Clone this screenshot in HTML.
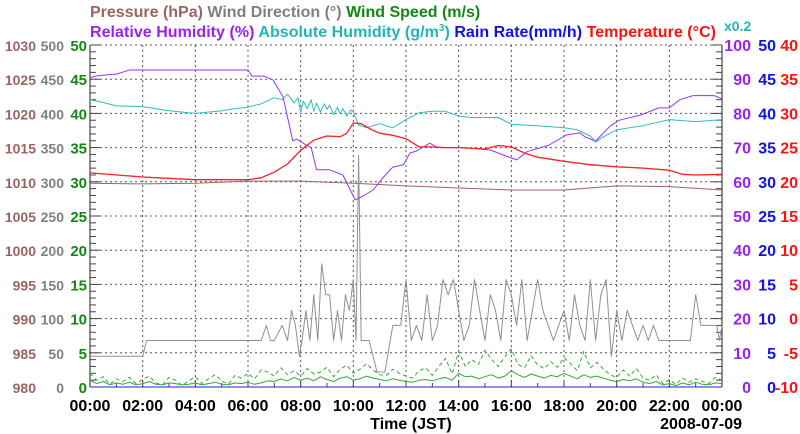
<!DOCTYPE html>
<html><head><meta charset="utf-8">
<style>
html,body{margin:0;padding:0;background:#fff;}
svg{display:block;font-family:"Liberation Sans",sans-serif;font-weight:bold;}
</style></head>
<body>
<svg id="chart" width="800" height="434" viewBox="0 0 800 434" xmlns="http://www.w3.org/2000/svg">
<g font-size="16">
<text x="90" y="17" text-anchor="start"><tspan fill="#9a6464">Pressure (hPa) </tspan><tspan fill="#808080">Wind Direction (°) </tspan><tspan fill="#118811">Wind Speed (m/s)</tspan></text>
<text x="90" y="37" text-anchor="start" textLength="626" lengthAdjust="spacing"><tspan fill="#9922ee">Relative Humidity (%) </tspan><tspan fill="#22b5b5">Absolute Humidity (g/m<tspan dy="-6" font-size="10">3</tspan><tspan dy="6">) </tspan></tspan><tspan fill="#1111ee">Rain Rate(mm/h) </tspan><tspan fill="#ff1111">Temperature (°C)</tspan></text>
<text x="724" y="31" fill="#22b5b5" font-size="14">x0.2</text>
</g>
<g id="grid"></g>
<g id="axes"></g>
<g id="series"></g>
<g id="labels" font-size="16"></g>
</svg>
<script>
// ---- data ----
const xTickLabels = ["00:00","02:00","04:00","06:00","08:00","10:00","12:00","14:00","16:00","18:00","20:00","22:00","00:00"];
const pressureTicks = ["980","985","990","995","1000","1005","1010","1015","1020","1025","1030"];
const windDirTicks = ["0","50","100","150","200","250","300","350","400","450","500"];
const windSpdTicks = ["0","5","10","15","20","25","30","35","40","45","50"];
const rhTicks = ["0","10","20","30","40","50","60","70","80","90","100"];
const rainTicks = ["0","5","10","15","20","25","30","35","40","45","50"];
const tempTicks = ["-10","-5","0","5","10","15","20","25","30","35","40"];

const rhTimes = [0,0.2,0.5,1.0,1.5,2.0,3.0,4.0,5.0,6.0,6.15,6.6,6.95,7.33,7.7,7.85,8.2,8.4,8.6,9.1,9.6,10.07,10.4,10.75,11.1,11.5,11.9,12.15,12.4,12.9,13.2,14.2,15.2,15.8,16.2,16.6,17.1,17.4,18.1,18.6,18.8,19.2,19.75,20.1,20.9,21.6,22.0,22.4,22.9,23.7,24];
const rhValues = [90.4,90.9,91.2,91.5,92.7,92.7,92.7,92.7,92.7,92.7,90.9,90.9,89.8,84.8,72,72.5,70.8,70,63.5,63.5,62,54.7,56,57.6,61,64.3,65,68.4,69,71.3,70,70,69.3,67.5,66.4,68.8,70,70.6,73.7,74.3,73.1,71.9,76.3,78,79.5,81.6,81.6,84,85.2,85.2,84.2];

const tempTimes = [0,2,4,6,6.5,7,7.5,8,8.5,9,9.5,9.75,10,10.3,10.7,11,11.5,12,12.5,13,13.5,14,15,15.5,16,16.5,17,18,19,20,21,22,22.5,23,24];
const tempValues = [21.3,20.7,20.3,20.3,20.6,21.4,22.6,24.6,26.1,26.7,26.6,27.1,28.6,28.5,27.6,27.1,26.8,26.3,25.1,25.1,25.0,25.0,24.8,25.3,25.1,24.2,23.6,23.0,22.5,22.2,22.0,21.7,21.1,21.0,21.1];

const absTimes = [0,0.5,1,2,3,4,5,5.5,6,6.5,7,7.3,7.5,7.75,7.9,8,8.1,8.25,8.4,8.5,8.6,8.75,8.9,9,9.1,9.25,9.4,9.5,9.6,9.75,9.9,10,10.2,10.5,11,11.5,12,12.5,13,13.5,14,14.5,15,15.5,16,17,18,18.5,19,19.2,19.5,20,21,22,23,24];
const absValues = [42,41.6,41.1,41,40.4,40,40.4,40.7,40.9,41.4,42.3,42.0,42.8,41.5,42.3,40.2,41.8,40.7,42.0,40.3,41.5,40.2,41.4,40.6,41.2,39.8,40.9,39.9,40.7,39.6,40.5,40.2,38.3,37.9,38.5,37.9,39.1,40.1,40.3,40.3,39.6,39.4,39.4,39.4,38.4,38.2,37.9,37.6,36.7,35.8,36.6,37.6,38.2,39.1,38.8,39.1];

const presTimes = [0,2,4,6,8,10,12,14,16,18,20,22,24];
const presValues = [1009.8,1009.7,1009.8,1010.1,1010.1,1009.8,1009.4,1009.1,1008.8,1008.8,1009.4,1009.3,1008.8];

const wdTimes = [0,2.0,2.15,6.5,6.7,6.85,7.0,7.3,7.5,7.65,7.8,7.95,8.05,8.2,8.35,8.5,8.65,8.8,8.95,9.1,9.25,9.4,9.55,9.7,9.85,10.0,10.1,10.2,10.3,10.4,10.6,10.9,11.2,11.5,11.8,12.0,12.2,12.4,12.6,12.8,13.0,13.2,13.4,13.6,13.8,14.0,14.2,14.4,14.6,14.8,15.0,15.2,15.4,15.6,15.8,16.0,16.2,16.4,16.6,16.8,17.0,17.2,17.4,17.6,17.8,18.0,18.2,18.4,18.6,18.8,19.0,19.2,19.4,19.6,19.8,20.0,20.2,20.4,20.6,20.8,21.0,21.2,21.4,21.6,21.8,22.0,22.5,22.8,23.0,23.2,23.5,23.8,23.9,24];
const wdValues = [45,45,68,68,90,68,68,90,68,112,90,45,68,112,68,135,68,180,135,135,68,112,68,135,112,157,68,339,68,68,68,22,22,90,90,157,68,90,68,135,68,90,157,135,157,112,68,90,157,112,68,135,112,68,157,135,90,157,68,112,157,112,90,68,90,112,68,135,90,68,157,68,135,157,45,112,68,112,90,68,90,68,90,68,68,68,68,68,135,90,90,90,68,90];

const wsTimes = [0,0.25,0.5,0.75,1,1.25,1.5,1.75,2,2.25,2.5,2.75,3,3.25,3.5,3.75,4,4.25,4.5,4.75,5,5.25,5.5,5.75,6,6.25,6.5,6.75,7,7.25,7.5,7.75,8,8.25,8.5,8.75,9,9.25,9.5,9.75,10,10.25,10.5,10.75,11,11.25,11.5,11.75,12,12.25,12.5,12.75,13,13.25,13.5,13.75,14,14.25,14.5,14.75,15,15.25,15.5,15.75,16,16.25,16.5,16.75,17,17.25,17.5,17.75,18,18.25,18.5,18.75,19,19.25,19.5,19.75,20,20.25,20.5,20.75,21,21.25,21.5,21.75,22,22.25,22.5,22.75,23,23.25,23.5,23.75,24];
const wsAvg = [1,0.5,0.8,0.3,0.6,0.4,0.7,0.3,0.5,0.8,0.4,0.3,0.6,0.5,0.3,0.4,0.6,0.3,0.5,0.7,0.4,0.3,0.6,0.5,0.7,0.4,0.6,0.9,0.8,1.2,0.9,1.4,1.0,1.3,0.9,1.5,1.1,0.8,1.3,1.5,1.0,1.2,1.6,1.3,1.1,0.9,1.2,1.0,0.8,0.7,1.0,1.1,0.9,1.2,1.4,1.0,2.0,1.5,1.6,1.2,1.5,1.8,1.3,1.6,2.4,1.8,1.4,1.9,1.6,1.3,1.7,1.5,2.0,1.6,1.2,1.8,1.4,1.6,1.3,1.0,0.8,1.1,0.9,1.2,0.7,0.5,0.8,0.3,0.5,0.2,0.6,0.3,0.7,0.4,0.3,0.6,0.5];
const wsGust = [2.0,1.0,1.5,0.4,1.2,0.8,1.4,0.5,1.1,1.6,0.6,0.3,1.4,1.0,0.2,0.9,1.5,0.5,1.2,1.8,0.9,0.4,1.7,1.3,2.0,1.2,2.5,2.2,1.6,2.8,1.8,2.4,1.6,2.7,1.9,2.2,2.9,1.5,2.6,3.2,2.0,2.6,3.4,2.5,1.8,1.7,2.6,2.0,1.6,1.3,2.4,2.8,1.7,3.0,4.2,1.9,5.2,3.0,4.0,3.3,5.4,4.0,3.0,4.4,5.6,3.3,2.8,4.6,3.2,2.7,3.7,2.9,4.3,3.4,2.4,5.2,2.8,3.6,2.6,1.8,1.4,2.5,1.6,2.7,1.3,1.0,1.8,0.5,1.1,0.4,1.3,0.7,1.2,0.8,0.5,1.4,1.0];

const rainTimes = [0,24];
const rainValues = [0,0];

// ---- geometry ----
const X0 = 90, X1 = 722, Y0 = 387, Y1 = 45;
const NS = "http://www.w3.org/2000/svg";
function xScale(t){ return X0 + (X1 - X0) * t / 24; }
function yFrac(f){ return Y0 - (Y0 - Y1) * f; }
const yPres = v => yFrac((v - 980) / 50);
const yWD = v => yFrac(v / 500);
const yWS = v => yFrac(v / 50);
const yRH = v => yFrac(v / 100);
const yRain = v => yFrac(v / 50);
const yTemp = v => yFrac((v + 10) / 50);
const yAbs = v => yFrac(v / 50);

function mk(tag, attrs, parent){
  const e = document.createElementNS(NS, tag);
  for (const k in attrs) e.setAttribute(k, attrs[k]);
  parent.appendChild(e);
  return e;
}
const grid = document.getElementById('grid');
const axes = document.getElementById('axes');
const series = document.getElementById('series');
const labels = document.getElementById('labels');

for (let h = 2; h < 24; h += 2) {
  const l = mk('line', {x1:xScale(h), x2:xScale(h), y1:Y1, y2:Y0, stroke:'#555', 'stroke-width':1, 'stroke-dasharray':'2,3'}, grid);
  
  
}
for (let i = 1; i <= 10; i++) {
  const y = yFrac(i / 10);
  const l = mk('line', {x1:X0, x2:X1, y1:y, y2:y, stroke:'#555', 'stroke-width':1, 'stroke-dasharray':'2,3'}, grid);
  
  
}
[X0, X1].forEach((x, k) => {
  const l = mk('line', {x1:x, x2:x, y1:Y1, y2:Y0, stroke:'#444', 'stroke-width':1.2}, axes);
  
  
});
for (let i = 0; i <= 50; i++) {
  const y = yFrac(i / 50);
  const len = (i % 5 === 0) ? 10 : 6;
  const a = mk('line', {x1:X0, x2:X0 + len, y1:y, y2:y, stroke:'#444', 'stroke-width':1}, axes);
  
  
  const b = mk('line', {x1:X1 - len, x2:X1, y1:y, y2:y, stroke:'#444', 'stroke-width':1}, axes);
  
  
}
for (let h = 0; h <= 24; h++) {
  const t = mk('line', {x1:xScale(h), x2:xScale(h), y1:Y0, y2:Y0 - (h % 2 ? 4 : 7), stroke:'#444', 'stroke-width':1}, axes);
  
  
}

function poly(times, vals, yfn, color, name, extra){
  const pts = times.map((t, i) => xScale(t).toFixed(1) + ',' + yfn(vals[i]).toFixed(1)).join(' ');
  const p = mk('polyline', Object.assign({points:pts, fill:'none', stroke:color, 'stroke-width':1, 'stroke-linejoin':'round'}, extra || {}), series);
  
  
}
poly(presTimes, presValues, yPres, '#9a6464', 'pressure-line');
poly(wdTimes, wdValues, yWD, '#909090', 'wind-direction-line');
poly(wsTimes, wsGust, yWS, '#33aa33', 'wind-gust-line', {'stroke-dasharray':'4,3'});
poly(wsTimes, wsAvg, yWS, '#33aa33', 'wind-speed-line');
poly(absTimes, absValues, yAbs, '#33bbbb', 'absolute-humidity-line');
poly(rhTimes, rhValues, yRH, '#9933ff', 'relative-humidity-line');
poly(tempTimes, tempValues, yTemp, '#ee44ee', 'temperature-shadow-line', {'stroke-dasharray':'3,3'});
poly(tempTimes, tempValues, yTemp, '#ff2222', 'temperature-line', {'stroke-width':1.3});
poly(rainTimes, rainValues, yRain, '#2222cc', 'rain-rate-line');

function txt(x, y, s, color, anchor, name, size){
  const e = mk('text', {x:x, y:y, fill:color, 'text-anchor':anchor}, labels);
  if (size) e.setAttribute('font-size', size);
  e.textContent = s;
  
  
}
for (let i = 0; i <= 10; i++) {
  const y = yFrac(i / 10) + 6;
  txt(36, y, pressureTicks[i], '#9a6464', 'end', 'pressure-tick-label', 14);
  txt(64, y, windDirTicks[i], '#808080', 'end', 'wind-direction-tick-label', 14);
  txt(87, y, windSpdTicks[i], '#118811', 'end', 'wind-speed-tick-label', 15);
  txt(751, y, rhTicks[i], '#9922ee', 'end', 'rh-tick-label');
  txt(776, y, rainTicks[i], '#1111ee', 'end', 'rain-tick-label');
  txt(798, y, tempTicks[i], '#ff1111', 'end', 'temperature-tick-label');
}
for (let i = 0; i < xTickLabels.length; i++) {
  txt(xScale(i * 2), 411, xTickLabels[i], '#000', 'middle', 'x-tick-label');
}
txt(411, 429, 'Time (JST)', '#000', 'middle', 'x-axis-title');
txt(742, 429, '2008-07-09', '#000', 'end', 'date-label');
</script>
</body></html>
